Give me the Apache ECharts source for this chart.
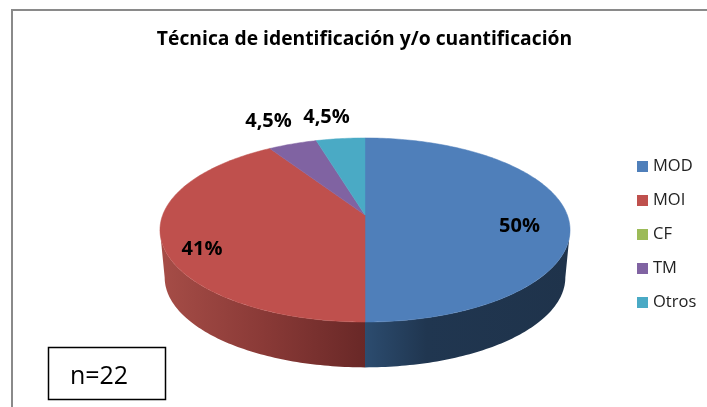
<!DOCTYPE html>
<html><head><meta charset="utf-8">
<style>html,body{margin:0;padding:0;background:#fff}#c{width:707px;height:407px}</style>
<script src="https://cdn.jsdelivr.net/npm/echarts@6/dist/echarts.min.js"></script>
</head><body><div id="c"></div>
<script>
const chartTitle = 'Técnica de identificación y/o cuantificación';
const categories = ['MOD', 'MOI', 'CF', 'TM', 'Otros'];
const values = [50, 41, 0, 4.5, 4.5];
const valueLabels = ['50%', '41%', '', '4,5%', '4,5%'];
const sampleNote = 'n=22';

const colors = ['#4f7fba', '#bf504d', '#9cbb58', '#8063a2', '#4aaac5'];
const sideStops = [
  [[0, '#2c4c6f'], [0.3, '#203650'], [1, '#1f334b']],
  [[0, '#a64d47'], [0.5, '#8a3a37'], [1, '#692827']],
  null, null, null
];
const labelCentres = { MOD: [519.5, 226], MOI: [202, 249], TM: [268.5, 121], Otros: [326.5, 117] };

// Pie geometry (perspective projection of a circle on the screen)
const PIE = { cx: 365, cy: 215, a: 202.3, b: 89.6, k: -0.163, shrink: 0.977, drop: 47.8 };
const FONT = '"Open Sans", "Noto Sans", sans-serif';
const total = values.reduce((s, v) => s + v, 0);
const silhouette = Math.acos(PIE.k) * 180 / Math.PI;

function project(tDeg, lower) {
  const t = tDeg * Math.PI / 180, u = Math.sin(t), v = -Math.cos(t), w = 1 + PIE.k * v;
  const X = PIE.a * u / w, Y = PIE.b * v / w;
  return lower
    ? [PIE.cx + X * PIE.shrink, PIE.cy + Y * PIE.shrink + PIE.drop]
    : [PIE.cx + X, PIE.cy + Y];
}
function arc(t0, t1, lower) {
  const pts = [], n = Math.max(2, Math.ceil(Math.abs(t1 - t0)));
  for (let i = 0; i <= n; i++) pts.push(project(t0 + (t1 - t0) * i / n, lower));
  return pts;
}
function renderSlice(idx) {
  return function () {
    const before = values.slice(0, idx).reduce((s, v) => s + v, 0);
    const t0 = before / total * 360, t1 = (before + values[idx]) / total * 360;
    const children = [];
    if (values[idx] <= 0) return { type: 'group', children };
    const s0 = Math.max(t0, silhouette), s1 = Math.min(t1, 360 - silhouette);
    if (s1 > s0 && sideStops[idx]) {
      children.push({
        type: 'polygon',
        shape: { points: arc(s0, s1, false).concat(arc(s1, s0, true)) },
        style: { fill: new echarts.graphic.LinearGradient(0, 0, 1, 0,
          sideStops[idx].map(s => ({ offset: s[0], color: s[1] }))) }
      });
    }
    children.push({
      type: 'polygon',
      shape: { points: [[PIE.cx, PIE.cy]].concat(arc(t0, t1, false)) },
      style: { fill: colors[idx], stroke: colors[idx], lineWidth: 0.5 }
    });
    const c = labelCentres[categories[idx]];
    if (c) children.push({
      type: 'text', z2: 50,
      style: { x: c[0], y: c[1], text: valueLabels[idx], fill: '#000', align: 'center',
        verticalAlign: 'middle', font: 'bold 20px ' + FONT }
    });
    return { type: 'group', children };
  };
}

const chart = echarts.init(document.getElementById('c'), null, { renderer: 'canvas' });
chart.setOption({
  animation: false,
  backgroundColor: '#fff',
  title: {
    text: chartTitle, left: 359.5, top: 25, textAlign: 'center',
    textStyle: { fontFamily: FONT, fontWeight: 'bold', fontSize: 19.3, color: '#000' }
  },
  legend: {
    data: categories, orient: 'vertical', left: 632, top: 153, icon: 'rect',
    itemWidth: 11, itemHeight: 11, itemGap: 17, selectedMode: false,
    textStyle: { fontFamily: FONT, fontSize: 16.5, color: '#222' }
  },
  graphic: [
    { type: 'rect', z: -10, shape: { x: 12, y: 10, width: 720, height: 420 },
      style: { fill: 'none', stroke: '#8a8a8a', lineWidth: 2 } },
    { type: 'rect', z: 20, shape: { x: 48.5, y: 347.5, width: 117, height: 52 },
      style: { fill: '#fff', stroke: '#000', lineWidth: 1.5 } },
    { type: 'text', z: 21, style: { x: 99, y: 377, text: sampleNote, fill: '#000', align: 'center',
      verticalAlign: 'middle', font: '25px ' + FONT } }
  ],
  series: categories.map((name, i) => ({
    type: 'custom', name, coordinateSystem: 'none',
    itemStyle: { color: colors[i] },
    renderItem: renderSlice(i),
    data: [[values[i]]]
  }))
});
</script></body></html>
